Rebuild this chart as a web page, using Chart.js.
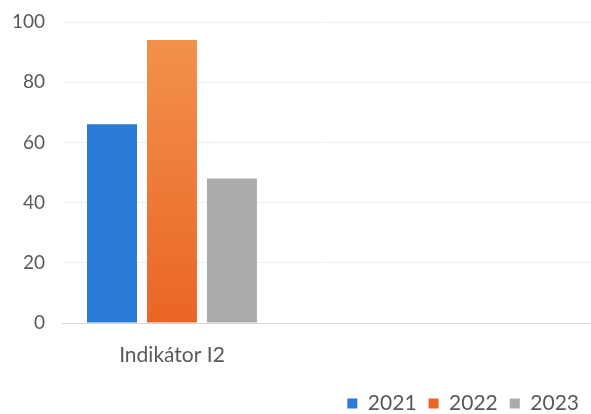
<!DOCTYPE html>
<html>
<head>
<meta charset="utf-8">
<script src="https://cdn.jsdelivr.net/npm/chart.js@4/dist/chart.umd.min.js"></script>
<style>
  html, body { margin: 0; padding: 0; background: #ffffff; }
  #wrap { width: 591px; height: 414px; }
</style>
</head>
<body>
<div id="wrap"><canvas id="indicatorChart"></canvas></div>
<script>
// Indicator values per year
const categories = ['Indikátor I2', ''];
const years = ['2021', '2022', '2023'];
const values2021 = [66];
const values2022 = [94];
const values2023 = [48];
const yTicks = [0, 20, 40, 60, 80, 100];

document.addEventListener('DOMContentLoaded', () => {
    const ctx = document.getElementById('indicatorChart').getContext('2d');

    // orange bar fades darker toward the base
    const orangeFill = (context) => {
        const area = context.chart.chartArea;
        if (!area) return '#ef7d32';
        const g = context.chart.ctx.createLinearGradient(0, area.top, 0, area.bottom);
        g.addColorStop(0, '#f2944e');
        g.addColorStop(1, '#ea6526');
        return g;
    };

    new Chart(ctx, {
        type: 'bar',
        data: {
            labels: categories,
            datasets: [
                { label: years[0], data: values2021, backgroundColor: '#2b7ad6' },
                { label: years[1], data: values2022, backgroundColor: orangeFill },
                { label: years[2], data: values2023, backgroundColor: '#ababab' }
            ]
        },
        options: {
            responsive: true,
            maintainAspectRatio: false,
            animation: false,
            categoryPercentage: 0.818,
            barPercentage: 0.833,
            layout: { padding: { left: 11, right: 0, top: 22, bottom: -10 } },
            plugins: {
                legend: {
                    position: 'bottom',
                    align: 'end',
                    labels: {
                        boxWidth: 10,
                        boxHeight: 10,
                        padding: 12,
                        color: '#595959',
                        font: { family: 'Lato', size: 21 }
                    }
                },
                tooltip: { enabled: false }
            },
            scales: {
                x: {
                    // widen the category slots so the single group sits on the left
                    afterBuildTicks: (scale) => { scale._valueRange = 2.405; },
                    afterFit: (scale) => {
                        scale.height = 58;
                        scale.paddingLeft = 0;
                        scale.paddingRight = 0;
                    },
                    grid: { display: false, drawTicks: false },
                    border: { display: true, color: '#d9d9d9' },
                    ticks: { color: '#595959', padding: 20, font: { family: 'Lato', size: 21 } }
                },
                y: {
                    min: 0,
                    max: 100,
                    afterBuildTicks: (scale) => { scale.ticks = yTicks.map(v => ({ value: v })); },
                    afterFit: (scale) => {
                        scale.width = 51;
                        scale.paddingTop = 0;
                        scale.paddingBottom = 0;
                    },
                    grid: { color: '#eeeeee', drawTicks: false },
                    border: { display: false },
                    ticks: { color: '#595959', padding: 17, font: { family: 'Lato', size: 19 } }
                }
            }
        }
    });
});
</script>
</body>
</html>
